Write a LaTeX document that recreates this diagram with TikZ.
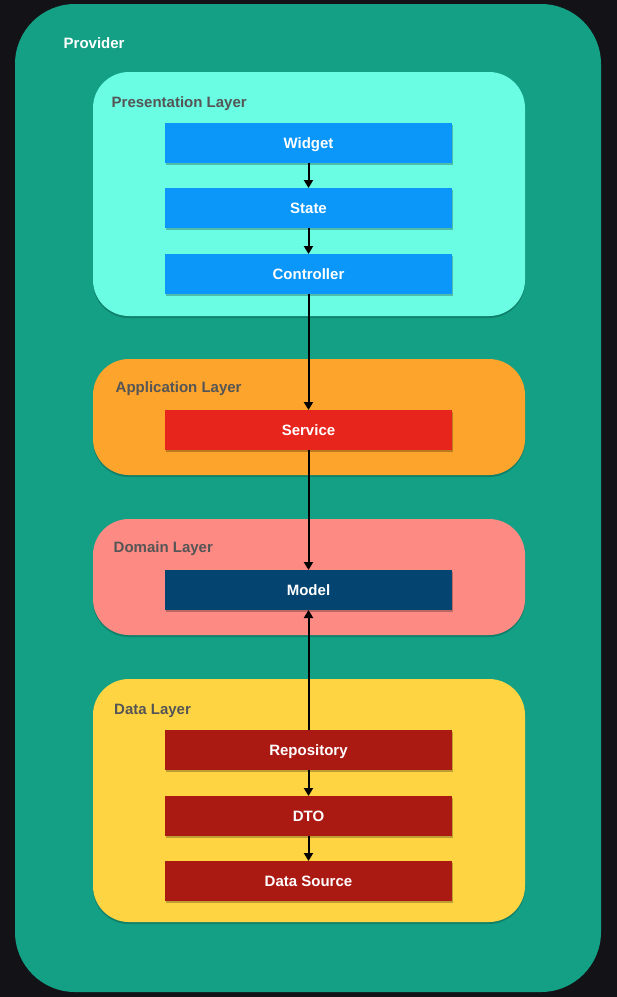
\documentclass[tikz,border=0pt]{standalone}
\usepackage{fontspec}
\setmainfont{Liberation Sans}
\usetikzlibrary{positioning, backgrounds, arrows.meta, shadows}
\definecolor{bgdark}{HTML}{131317}
\definecolor{provgreen}{HTML}{13A085}
\definecolor{presaqua}{HTML}{6AFDE3}
\definecolor{presblue}{HTML}{0B97FA}
\definecolor{apporange}{HTML}{FCA42C}
\definecolor{servred}{HTML}{E8251C}
\definecolor{dompink}{HTML}{FE8A84}
\definecolor{modelblue}{HTML}{034471}
\definecolor{datayellow}{HTML}{FED443}
\definecolor{datared}{HTML}{AB1913}
\definecolor{labelgray}{HTML}{555555}
\tikzset{
  comp/.style={minimum width=287pt, minimum height=40pt, inner sep=0pt, outer sep=0pt,
    text height=11pt, text depth=0pt, text=white,
    font=\fontsize{15}{18}\selectfont\bfseries,
    drop shadow={opacity=0.25, fill=black, shadow xshift=0.5pt, shadow yshift=-2pt}},
  layer/.style={rounded corners=36pt,
    drop shadow={opacity=0.2, fill=black, shadow xshift=0pt, shadow yshift=-2pt}},
  layertitle/.style={anchor=base west, inner sep=0pt, text=labelgray,
    font=\fontsize{15}{18}\selectfont\bfseries}
}

\begin{document}
\begin{tikzpicture}[x=1pt, y=-1pt, >={Triangle[length=8pt,width=9pt]}]
		\useasboundingbox (0,0) rectangle (617,997);

		\node(widget) [comp, fill=presblue] at (308.5,143) {Widget};
		\node(state) [comp, fill=presblue, below=25pt of widget] {State};
		\node(controller) [comp, fill=presblue, below=26pt of state] {Controller};
		\node(service) [comp, fill=servred, below=116pt of controller] {Service};
		\node(model) [comp, fill=modelblue, below=120pt of service] {Model};
		\node(repository) [comp, fill=datared, below=120pt of model] {Repository};
		\node(dto) [comp, fill=datared, below=26pt of repository] {DTO};
		\node(datasource) [comp, fill=datared, below=25pt of dto] {Data Source};

		\node(provider) [layertitle, text=white] at (63.5,48) {Provider};
		\node(presentation) [layertitle] at (111.5,107) {Presentation Layer};
		\node(application) [layertitle] at (115.5,392) {Application Layer};
		\node(domain) [layertitle] at (113.5,552) {Domain Layer};
		\node(data) [layertitle] at (114,714) {Data Layer};

		\begin{scope}[on background layer]
		\fill[bgdark] (0,0) rectangle (617,997);
		\fill[provgreen, rounded corners=60pt] (15,4) rectangle (601,992);
		\fill[presaqua, layer] (93,72) rectangle (525,316);
		\fill[apporange, layer] (93,359) rectangle (525,475);
		\fill[dompink, layer] (93,519) rectangle (525,635);
		\fill[datayellow, layer] (93,679) rectangle (525,922);
		\end{scope}

		\draw[->, line width=2pt] (widget) -- (state);
		\draw[->, line width=2pt] (state) -- (controller);
		\draw[->, line width=2pt] (controller) -- (service);
		\draw[->, line width=2pt] (service) -- (model);
		\draw[->, line width=2pt] (repository) -- (model);
		\draw[->, line width=2pt] (repository) -- (dto);
		\draw[->, line width=2pt] (dto) -- (datasource);

		\end{tikzpicture}
\end{document}
